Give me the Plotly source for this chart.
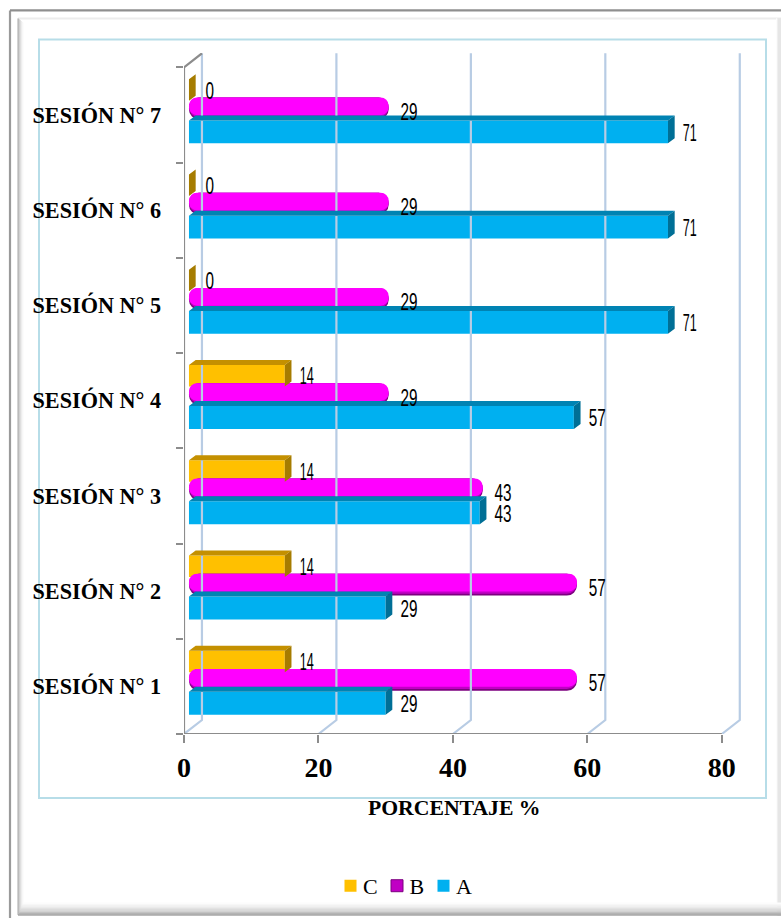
import plotly.graph_objects as go

categories = ["SESIÓN N° 1", "SESIÓN N° 2", "SESIÓN N° 3", "SESIÓN N° 4", "SESIÓN N° 5", "SESIÓN N° 6", "SESIÓN N° 7"]
serie_a = [29, 29, 43, 57, 71, 71, 71]
serie_b = [57, 57, 43, 29, 29, 29, 29]
serie_c = [14, 14, 14, 14, 0, 0, 0]
x_ticks = [0, 20, 40, 60, 80]

W, H = 781, 918
L, R, T, B = 184, 742, 52.6, 734
XMAX, YMIN, YMAX = 83.0, -0.5, 6.65
def px(v): return (v - L) / (R - L)
def py(v): return (B - v) / (B - T)

BASE = 0.74          # floor offset of bars
END = 0.25           # the drawn bar ends slightly past its value
DX, DY = 6.7 / 6.73, 5 / 95.3     # bar depth
WX, WY = 2.67, 0.147              # wall depth
TUBE = 0.7           # the rounded tube runs a little past its value
FONT_S = "Liberation Serif"
FONT_N = "Liberation Sans"
ys = list(range(len(categories)))
off_a, h_a = -0.178, 0.241
off_b, h_b = 0.068, 0.23
off_c, h_c = 0.262, 0.226

fig = go.Figure()

for t in x_ticks:
    fig.add_trace(go.Scatter(x=[t, t + WX, t + WX], y=[YMIN, YMIN + WY, 6.5 + WY], mode="lines",
                             line=dict(color="#b8cce4", width=2.2), showlegend=False, hoverinfo="skip"))
fig.add_trace(go.Scatter(x=[x_ticks[0], x_ticks[-1]], y=[YMIN, YMIN], mode="lines",
                         line=dict(color="#8c8c8c", width=2.2), showlegend=False, hoverinfo="skip"))
fig.add_trace(go.Scatter(x=[WX, 0, 0], y=[6.5 + WY, 6.5, YMIN], mode="lines",
                         line=dict(color="#8c8c8c", width=2.2), showlegend=False, hoverinfo="skip"))

def faces(vals, off, h, top_col, side_col):
    tx, ty, sx, sy = [], [], [], []
    for i, v in zip(ys, vals):
        e = BASE + v + (END if v else 0)
        y0, y1 = i + off - h / 2, i + off + h / 2
        tx += [BASE, e, e + DX, BASE + DX, BASE, None]
        ty += [y1, y1, y1 + DY, y1 + DY, y1, None]
        sx += [e, e + DX, e + DX, e, e, None]
        sy += [y0, y0 + DY, y1 + DY, y1, y0, None]
    for xs, yy, c in ((tx, ty, top_col), (sx, sy, side_col)):
        fig.add_trace(go.Scatter(x=xs, y=yy, mode="lines", fill="toself", fillcolor=c,
                                 line=dict(width=0, color=c), showlegend=False, hoverinfo="skip"))

def bar(vals, off, h, color, name=None, radius=None):
    fig.add_trace(go.Bar(y=[i + off for i in ys], x=vals, base=BASE, width=h, orientation="h",
                         marker=dict(color=color, line=dict(width=0), cornerradius=radius),
                         name=name or "", showlegend=bool(name),
                         legendrank={"C": 1, "B": 2, "A": 3}.get(name, 10), hoverinfo="skip"))

faces(serie_a, off_a, h_a, "#0083b3", "#006f96")
bar([v + END for v in serie_a], off_a, h_a, "#00b0f0", "A")
faces(serie_c, off_c, h_c, "#c49000", "#a67c00")
bar([v + END if v else 0 for v in serie_c], off_c, h_c, "#ffc000", "C")

# B: shaded rounded tube
tube = [v + TUBE for v in serie_b]
bar(tube, off_b, h_b, "#7d0080", None, "50%")
bar(tube, off_b + 0.01, h_b - 0.02, "#c000c4", None, "50%")
bar(tube, off_b + 0.022, h_b - 0.044, "#ff00ff", None, "50%")
# legend swatch for B (square, as in the chart's legend)
fig.add_trace(go.Bar(y=[None], x=[None], orientation="h", name="B", legendrank=2, hoverinfo="skip",
                     marker=dict(color="#c000c4", line=dict(color="#7d0080", width=1))))

LX = 3.2
for vals, off in ((serie_a, off_a - 0.028), (serie_b, 0.012), (serie_c, off_c - 0.028)):
    fig.add_trace(go.Scatter(x=[v + LX for v in vals], y=[i + off for i in ys], mode="text",
                             text=[str(v) for v in vals], textposition="middle right",
                             textfont=dict(family=FONT_N, size=24, color="#000000"),
                             showlegend=False, hoverinfo="skip", cliponaxis=False))

def line(x0, y0, x1, y1, color, width=1):
    return dict(type="line", xref="paper", yref="paper", x0=px(x0), x1=px(x1), y0=py(y0), y1=py(y1),
                line=dict(color=color, width=width), layer="below")

ramp = ["#a6a6a6", "#b4b4b4", "#c2c2c2", "#cecece", "#d8d8d8", "#e2e2e2", "#eaeaea", "#f1f1f1", "#f7f7f7", "#fcfcfc"]
shapes = [line(10, 918, 10, 10, "#9a9a9a", 2.2), line(10, 10, 781, 10, "#8f8f8f", 2.2),
          line(18, 18, 781, 18, "#ececec", 2)]
for i, c in enumerate(ramp):
    shapes.append(line(781 - i * 0.5, 18, 781 - i * 0.5, 916, "#e6e6e6" if i < 8 else c, 1))
for i, c in enumerate(ramp):
    yb = 915 - i * 1.3
    shapes.append(line(18 + i * 0.6, yb, 781, yb, c, 1.6))
for i, c in enumerate(ramp):
    xl = 18 + i * 0.6
    shapes.append(line(xl, 18 + i * 0.5, xl, 915 - i * 1.3, c, 1))
shapes.append(dict(type="rect", xref="paper", yref="paper", x0=px(39), x1=px(766), y0=py(39), y1=py(798),
                   line=dict(color="#b7dde8", width=2), layer="below"))

fig.update_layout(
    width=W, height=H, margin=dict(l=L, r=W - R, t=T, b=H - B, autoexpand=False),
    paper_bgcolor="#ffffff", plot_bgcolor="rgba(0,0,0,0)", barmode="overlay", shapes=shapes,
    xaxis=dict(range=[0, XMAX], tickvals=x_ticks, showgrid=False, zeroline=False, showline=False,
               ticks="outside", ticklen=8, tickwidth=2, tickcolor="#8c8c8c",
               tickfont=dict(family=FONT_S, size=28, color="#000000", weight="bold")),
    yaxis=dict(range=[YMIN, YMAX], tickvals=ys, ticktext=categories, showgrid=False, zeroline=False,
               showline=False, ticks="", ticklabelstandoff=22,
               tickfont=dict(family=FONT_S, size=22.2, color="#000000", weight="bold"),
               minor=dict(tickvals=[i - 0.5 for i in range(len(categories) + 1)], ticks="outside",
                          ticklen=7, tickwidth=2, tickcolor="#8c8c8c", showgrid=False)),
    annotations=[dict(text="<b>PORCENTAJE %</b>", xref="x", yref="paper", x=40.2, y=py(808), yanchor="middle",
                      showarrow=False, font=dict(family=FONT_S, size=21.7, color="#000000"))],
    legend=dict(orientation="h", x=px(396), xanchor="center", y=py(886), yanchor="middle",
                bgcolor="rgba(0,0,0,0)", font=dict(family=FONT_S, size=22, color="#000000"),
                itemwidth=30),
)

post = """
document.body.style.margin='0';
document.querySelectorAll('.textpoint text').forEach(function(t){
  var w=0; for (var ch of t.textContent) w += (ch==='1') ? 5.5 : 8.5;
  t.setAttribute('textLength', w);
  t.setAttribute('lengthAdjust', 'spacingAndGlyphs');
});
var items=document.querySelectorAll('.legend .traces');
var x0=null;
items.forEach(function(g,i){
  var m=/translate\\(([-\\d.]+)[, ]+([-\\d.]+)\\)/.exec(g.getAttribute('transform'));
  if(x0===null) x0=parseFloat(m[1]);
  g.setAttribute('transform','translate('+(x0+SHIFT+46.5*i)+','+m[2]+')');
  var t=g.querySelector('.legendtext');
  if(t) t.setAttribute('x', parseFloat(t.getAttribute('x'))-7.5);
});
""".replace("SHIFT", "25")
fig.write_html("out.html", post_script=post, config={"displayModeBar": False})
